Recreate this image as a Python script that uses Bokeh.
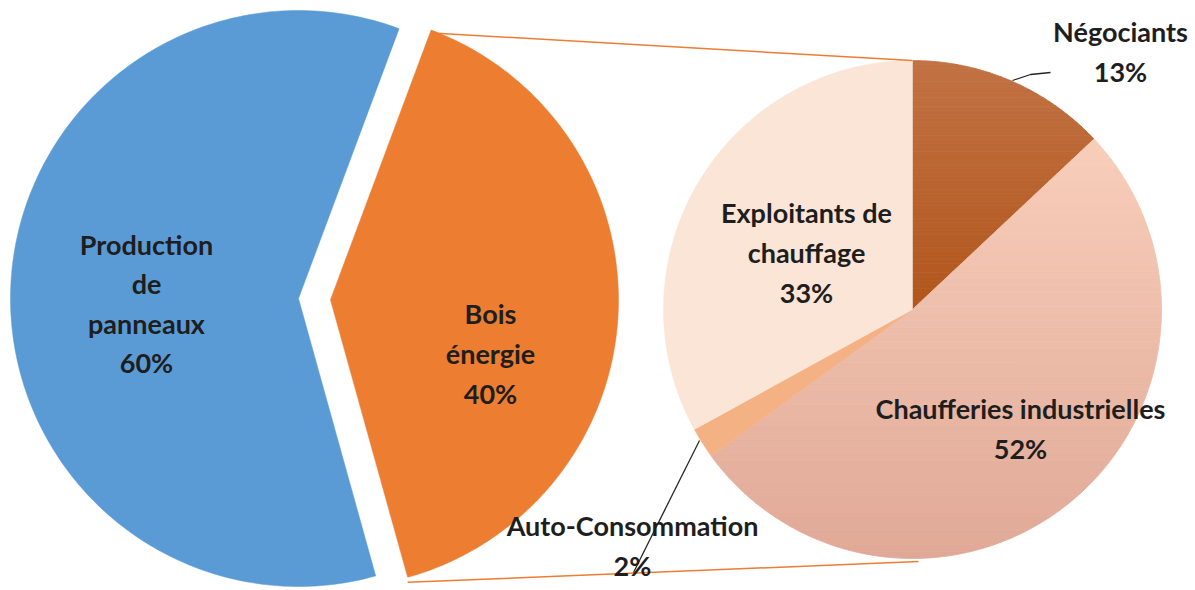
import numpy as np
from bokeh.plotting import figure
from bokeh.models import Range1d, ColumnDataSource
from bokeh.core.properties import value
from bokeh.embed import file_html
from bokeh.resources import INLINE

# ---------------- data ----------------
outer_labels = ["Production\nde\npanneaux", "Bois\nénergie"]
outer_values = [60, 40]
outer_colors = ["#5b9bd5", "#ed7d31"]

inner_labels = ["Négociants", "Chaufferies industrielles", "Auto-Consommation", "Exploitants de\nchauffage"]
inner_values = [13, 52, 2, 33]
inner_top_colors = ["#c27244", "#f8ceba", "#f4b183", "#fbe5d6"]
inner_bot_colors = ["#b1561c", "#e0a997", "#f4b183", "#fbe5d6"]

# ---------------- layout (pixel-like coordinates, y up) ----------------
W, H = 1195, 590
H_IMG = 590


def Y(y_img):
    return H_IMG - y_img


p = figure(width=W, height=H, output_backend="svg", toolbar_location=None,
           x_range=Range1d(0, W), y_range=Range1d(0, H), min_border=0)
p.axis.visible = False
p.grid.visible = False
p.outline_line_color = None
p.background_fill_color = "white"
p.border_fill_color = "white"

FONT = value("Lato")


def wedge_poly(cx, cy, r, a0, a1, n=200):
    ang = np.radians(np.linspace(a0, a1, n))
    xs = [cx] + list(cx + r * np.cos(ang))
    ys = [cy] + list(cy + r * np.sin(ang))
    return list(zip(xs, ys))


def clip_half(pts, y0, keep_above):
    out = []
    n = len(pts)
    for i in range(n):
        P = pts[i]
        Q = pts[(i + 1) % n]
        inP = P[1] >= y0 if keep_above else P[1] <= y0
        inQ = Q[1] >= y0 if keep_above else Q[1] <= y0
        if inP:
            out.append(P)
        if inP != inQ:
            t = (y0 - P[1]) / (Q[1] - P[1])
            out.append((P[0] + t * (Q[0] - P[0]), y0))
    return out


def hex2rgb(h):
    h = h.lstrip("#")
    return np.array([int(h[i:i + 2], 16) for i in (0, 2, 4)], dtype=float)


def rgb2hex(c):
    return "#%02x%02x%02x" % tuple(int(round(v)) for v in c)


def draw_gradient_wedge(cx, cy, r, a0, a1, ctop, cbot, nb=60):
    poly = wedge_poly(cx, cy, r, a0, a1)
    ys = [q[1] for q in poly]
    ymin, ymax = min(ys), max(ys)
    if ctop == cbot:
        p.patch([q[0] for q in poly], [q[1] for q in poly], fill_color=ctop,
                line_color=ctop, line_width=0.5)
        return
    t_rgb, b_rgb = hex2rgb(ctop), hex2rgb(cbot)
    edges = np.linspace(ymin, ymax, nb + 1)
    xs_all, ys_all, cols = [], [], []
    for i in range(nb):
        band = clip_half(poly, edges[i], True)
        if not band:
            continue
        band = clip_half(band, edges[i + 1], False)
        if len(band) < 3:
            continue
        f = (edges[i] + edges[i + 1]) / 2
        frac = (f - ymin) / (ymax - ymin)  # 0 bottom, 1 top
        col = rgb2hex(b_rgb + (t_rgb - b_rgb) * frac)
        xs_all.append([q[0] for q in band])
        ys_all.append([q[1] for q in band])
        cols.append(col)
    p.patches(xs_all, ys_all, fill_color=cols, line_color=cols, line_width=0.8)


# ---------------- left pie ----------------
Lcx, Lcy, Lr = 298, Y(298), 288
rot = -2.45          # centre angle of the exploded slice
explode = 32
orange_span = outer_values[1] * 3.6
o_a0 = rot - orange_span / 2
o_a1 = rot + orange_span / 2
draw_gradient_wedge(Lcx, Lcy, Lr, o_a1, o_a0 + 360, outer_colors[0], outer_colors[0])
Ocx = Lcx + explode * np.cos(np.radians(rot))
Ocy = Lcy + explode * np.sin(np.radians(rot))
draw_gradient_wedge(Ocx, Ocy, Lr, o_a0, o_a1, outer_colors[1], outer_colors[1])

# ---------------- right pie ----------------
Rcx, Rcy, Rr = 912, Y(309), 249
cum = np.concatenate([[0], np.cumsum(inner_values)]) / sum(inner_values) * 360
for i in range(len(inner_values)):
    a_start = 90 - cum[i + 1]
    a_end = 90 - cum[i]
    draw_gradient_wedge(Rcx, Rcy, Rr, a_start, a_end, inner_top_colors[i], inner_bot_colors[i])

# ---------------- connector lines ----------------
top_pt = (Ocx + Lr * np.cos(np.radians(o_a1)), Ocy + Lr * np.sin(np.radians(o_a1)))
bot_pt = (Ocx + Lr * np.cos(np.radians(o_a0)), Ocy + Lr * np.sin(np.radians(o_a0)))
p.line([top_pt[0] + 1, Rcx], [top_pt[1] - 3, Rcy + Rr], line_color="#ed7d31", line_width=1.5)
p.line([bot_pt[0], Rcx + 6], [bot_pt[1] - 5, Rcy - Rr - 3], line_color="#ed7d31", line_width=1.5)

# leader lines
p.line([1012, 1030, 1050], [Y(80), Y(74), Y(72)], line_color="#262626", line_width=1.3)
p.line([699, 633], [Y(440), Y(572)], line_color="#262626", line_width=1.3)

# ---------------- labels ----------------
def pct(v):
    return "%d%%" % v


lab_txt = [outer_labels[0] + "\n" + pct(outer_values[0]),
           outer_labels[1] + "\n" + pct(outer_values[1]),
           inner_labels[0] + "\n" + pct(inner_values[0]),
           inner_labels[1] + "\n" + pct(inner_values[1]),
           inner_labels[2] + "\n" + pct(inner_values[2]),
           inner_labels[3] + "\n" + pct(inner_values[3])]
lab_x = [146, 490, 1120, 1020, 632, 806]
lab_y = [Y(303), Y(353), Y(51), Y(428), Y(545), Y(252)]
src = ColumnDataSource(dict(x=lab_x, y=lab_y, t=lab_txt))
p.text("x", "y", text="t", source=src, text_font=FONT, text_font_style="bold",
       text_font_size="27px", text_align="center", text_baseline="middle",
       text_color="#1e1e1e", text_line_height=1.2)

open("out.html", "w").write(file_html(p, INLINE))
